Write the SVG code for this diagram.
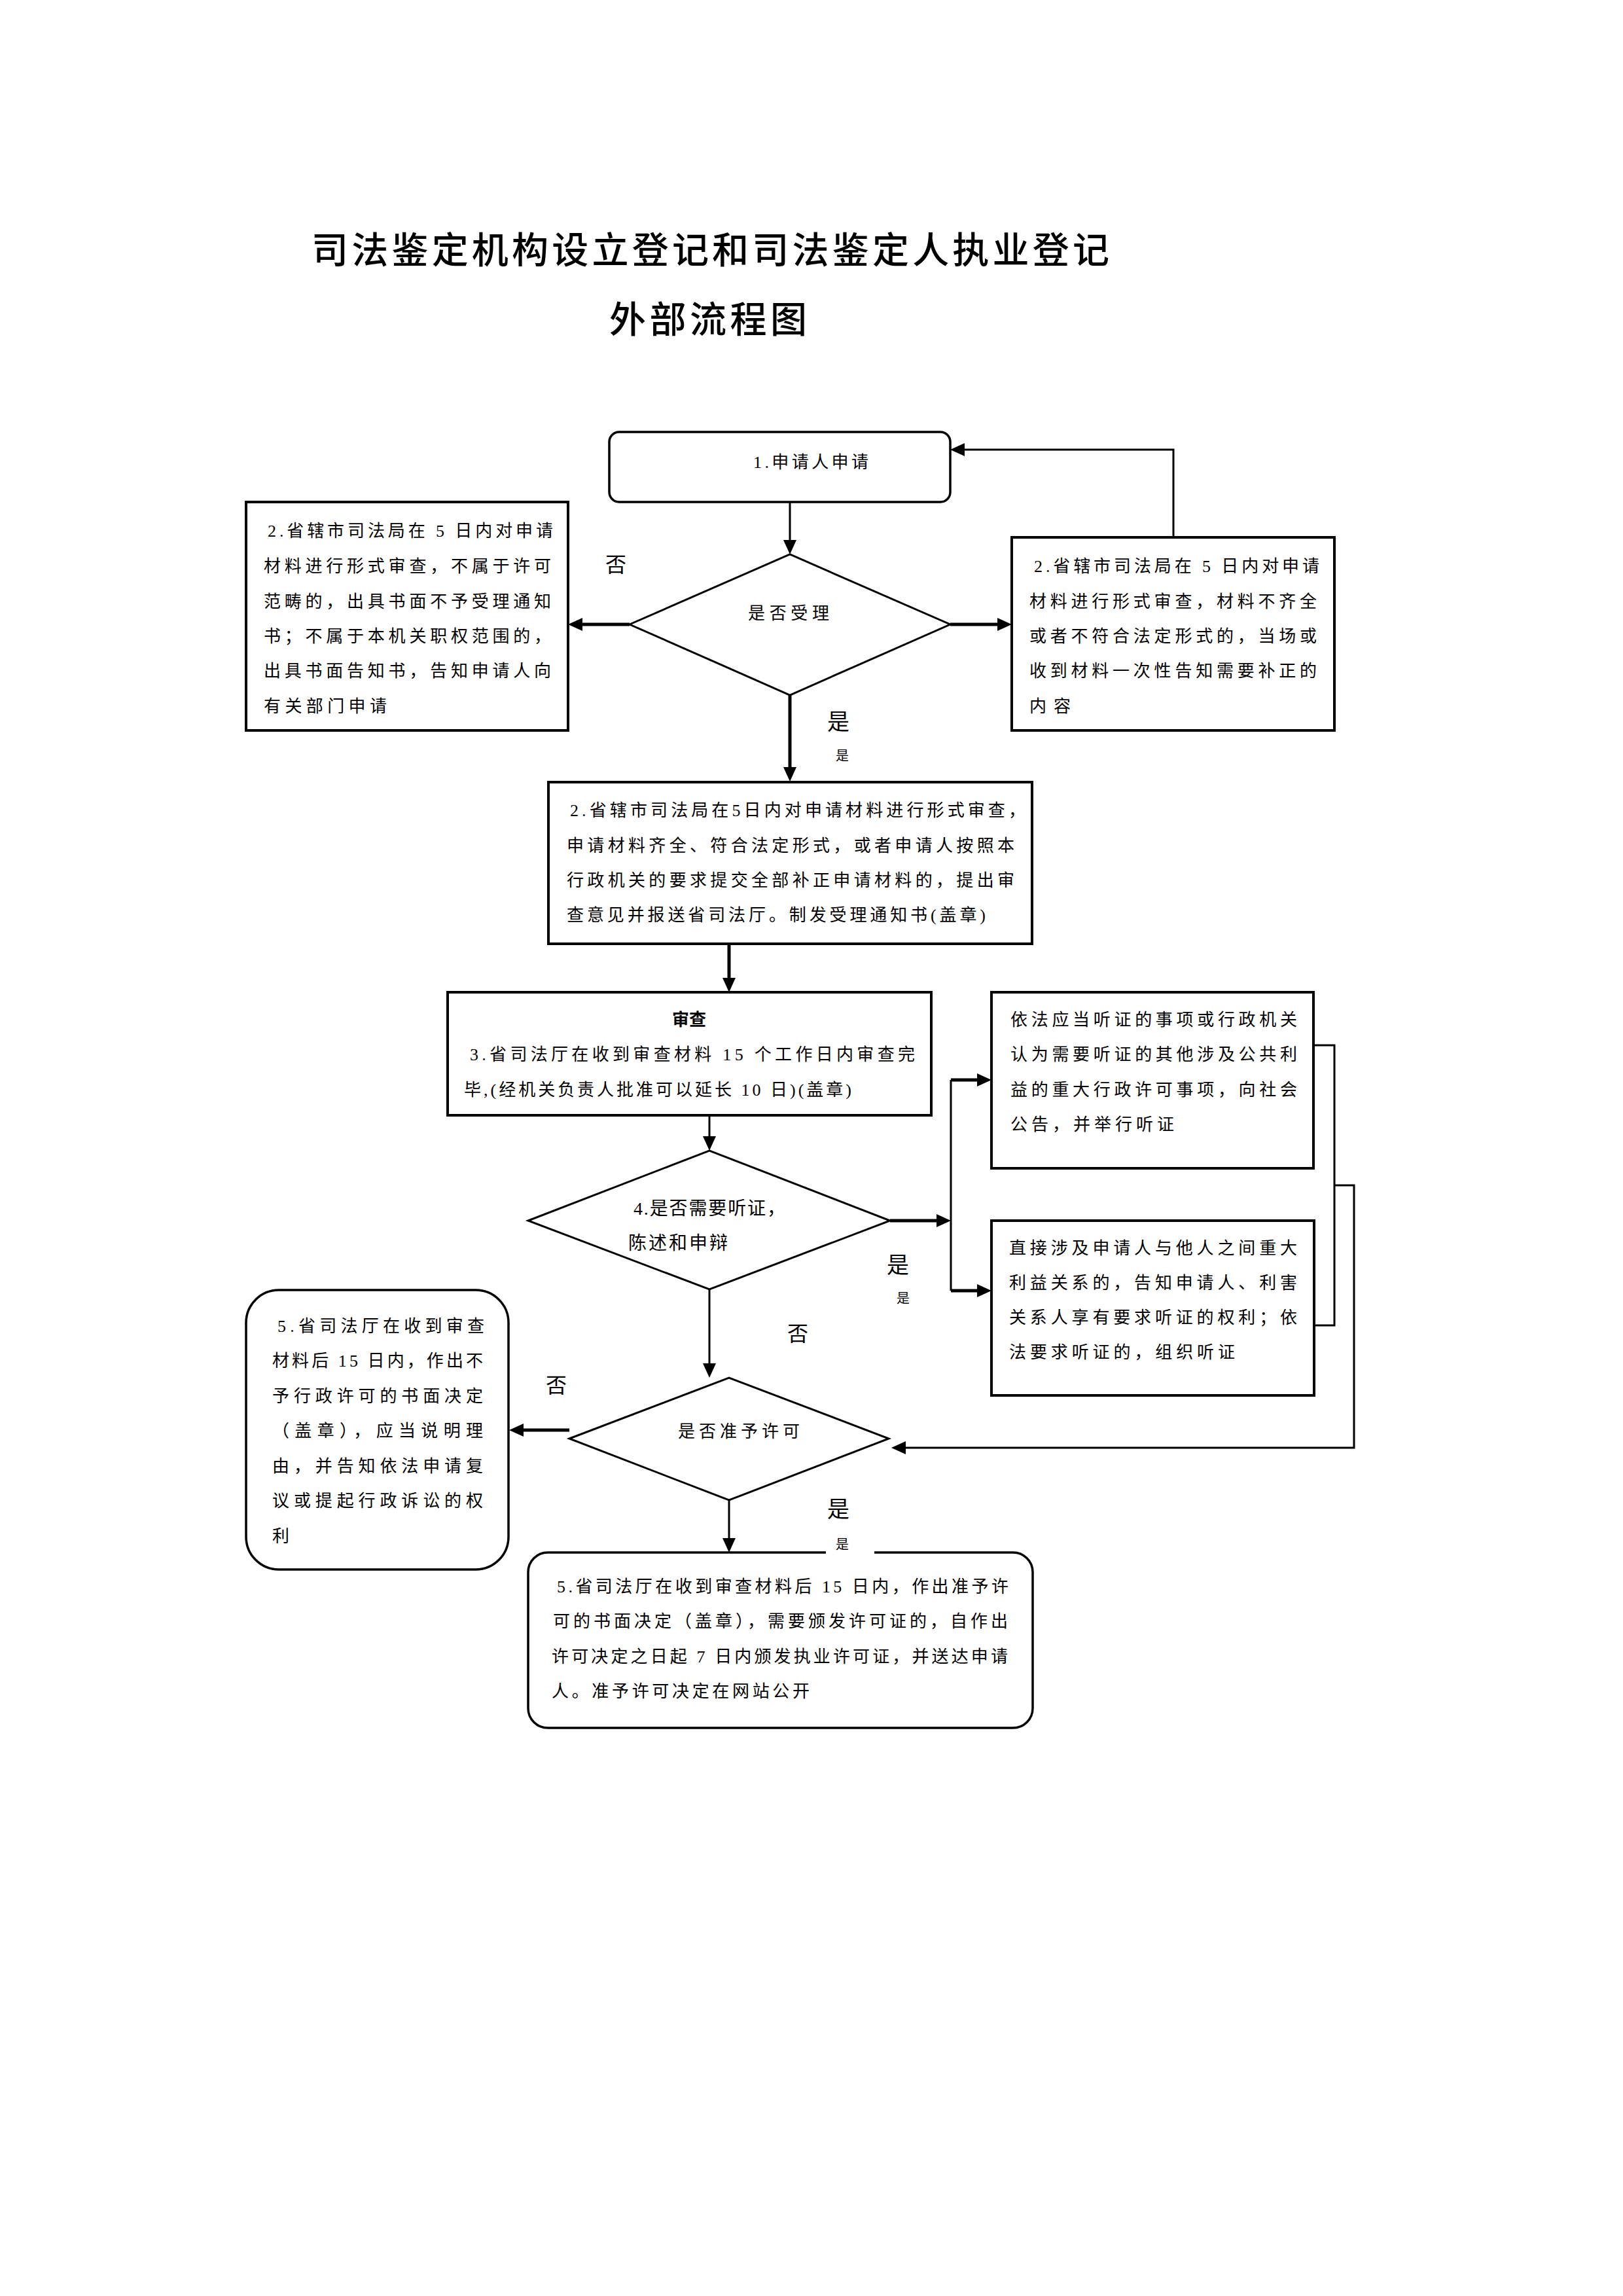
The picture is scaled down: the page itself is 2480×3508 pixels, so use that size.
<svg xmlns="http://www.w3.org/2000/svg" width="2480" height="3508" viewBox="0 0 2480 3508">
<style>
  .bg { fill: #ffffff; }
  .box { fill: none; stroke: #000; stroke-width: 4; }
  .rbox { fill: none; stroke: #000; stroke-width: 3.5; }
  .dia { fill: none; stroke: #000; stroke-width: 3; }
  .ln { fill: none; stroke: #000; stroke-width: 3; }
  .lnt { fill: none; stroke: #000; stroke-width: 5; }
  .t { font-family: "Liberation Serif", "Noto Sans CJK SC", sans-serif; font-size: 26px; fill: #000; }
  .td { font-family: "Liberation Serif", "Noto Sans CJK SC", sans-serif; font-size: 28px; fill: #000; }
  .lbl { font-family: "Noto Sans CJK SC", sans-serif; font-size: 32px; fill: #000; text-anchor: middle; }
  .lblb { font-family: "Noto Sans CJK SC", sans-serif; font-size: 34px; fill: #000; text-anchor: middle; }
  .lbls { font-family: "Noto Sans CJK SC", sans-serif; font-size: 20px; fill: #000; text-anchor: middle; }
  .title { font-family: "Noto Sans CJK SC", sans-serif; font-size: 56px; font-weight: 500; fill: #000; }
</style>
<defs>
  <marker id="ah" markerUnits="userSpaceOnUse" markerWidth="24" markerHeight="22" refX="2" refY="10" orient="auto">
    <path d="M0,0 L22,10 L0,20 z" fill="#000"/>
  </marker>
</defs>
<rect class="bg" x="0" y="0" width="2480" height="3508"/>

<g id="title">
  <text class="title" x="476" y="402" textLength="1219">司法鉴定机构设立登记和司法鉴定人执业登记</text>
  <text class="title" x="931" y="508" textLength="302">外部流程图</text>
</g>

<g id="connectors">
  <path class="ln" d="M1207,768 V827" marker-end="url(#ah)"/>
  <path class="lnt" d="M962,954 H888" marker-end="url(#ah)"/>
  <path class="lnt" d="M1452,954 H1526" marker-end="url(#ah)"/>
  <path class="ln" d="M1793,821 V687 H1472" marker-end="url(#ah)"/>
  <path class="lnt" d="M1207,1062 V1174" marker-end="url(#ah)"/>
  <path class="lnt" d="M1114,1442 V1496" marker-end="url(#ah)"/>
  <path class="ln" d="M1084,1704 V1738" marker-end="url(#ah)"/>
  <path class="lnt" d="M1360,1865 H1433" marker-end="url(#ah)"/>
  <path class="ln" d="M1453,1650 V1972"/>
  <path class="lnt" d="M1453,1650 H1495" marker-end="url(#ah)"/>
  <path class="lnt" d="M1453,1972 H1495" marker-end="url(#ah)"/>
  <path class="ln" d="M2007,1597 H2039 V2025 H2008"/>
  <path class="ln" d="M2039,1811 H2069 V2212 H1382" marker-end="url(#ah)"/>
  <path class="ln" d="M1084,1970 V2085" marker-end="url(#ah)"/>
  <path class="lnt" d="M870,2185 H798" marker-end="url(#ah)"/>
  <path class="ln" d="M1114,2292 V2352" marker-end="url(#ah)"/>
</g>

<g id="n1-apply">
  <rect class="rbox" x="931" y="660" width="521" height="107" rx="15"/>
  <text class="t" x="1151" y="715" textLength="176">1.申请人申请</text>
</g>

<g id="d1-accept">
  <polygon class="dia" points="962,954 1207,847 1452,954 1207,1062"/>
  <text class="t" x="1143" y="946" textLength="124">是否受理</text>
</g>

<g id="n2-reject">
  <rect class="box" x="376" y="767" width="492" height="349"/>
  <text class="t" x="409" y="820" textLength="436">2.省辖市司法局在 5 日内对申请</text>
  <text class="t" x="403" y="874" textLength="439">材料进行形式审查，不属于许可</text>
  <text class="t" x="403" y="928" textLength="439">范畴的，出具书面不予受理通知</text>
  <text class="t" x="403" y="981" textLength="439">书；不属于本机关职权范围的，</text>
  <text class="t" x="403" y="1034" textLength="439">出具书面告知书，告知申请人向</text>
  <text class="t" x="403" y="1088" textLength="188">有关部门申请</text>
</g>

<g id="n2-supplement">
  <rect class="box" x="1546" y="821" width="493" height="295"/>
  <text class="t" x="1580" y="874" textLength="436">2.省辖市司法局在 5 日内对申请</text>
  <text class="t" x="1573" y="928" textLength="439">材料进行形式审查，材料不齐全</text>
  <text class="t" x="1573" y="981" textLength="439">或者不符合法定形式的，当场或</text>
  <text class="t" x="1573" y="1034" textLength="439">收到材料一次性告知需要补正的</text>
  <text class="t" x="1573" y="1088" textLength="63">内容</text>
</g>

<g id="n2-accept">
  <rect class="box" x="838" y="1195" width="739" height="247"/>
  <text class="t" x="871" y="1247" textLength="696">2.省辖市司法局在5日内对申请材料进行形式审查，</text>
  <text class="t" x="866" y="1301" textLength="684">申请材料齐全、符合法定形式，或者申请人按照本</text>
  <text class="t" x="866" y="1354" textLength="684">行政机关的要求提交全部补正申请材料的，提出审</text>
  <text class="t" x="866" y="1407" textLength="640">查意见并报送省司法厅。制发受理通知书(盖章)</text>
</g>

<g id="n3-review">
  <rect class="box" x="684" y="1516" width="739" height="188"/>
  <text class="t" x="1053" y="1567" text-anchor="middle" font-weight="bold">审查</text>
  <text class="t" x="718" y="1620" textLength="680">3.省司法厅在收到审查材料 15 个工作日内审查完</text>
  <text class="t" x="709" y="1674" textLength="592">毕,(经机关负责人批准可以延长 10 日)(盖章)</text>
</g>

<g id="d4-hearing">
  <polygon class="dia" points="807,1865 1084,1758 1360,1865 1084,1970"/>
  <text class="td" x="968" y="1856" textLength="232">4.是否需要听证，</text>
  <text class="td" x="960" y="1909" textLength="152">陈述和申辩</text>
</g>

<g id="n4-public-hearing">
  <rect class="box" x="1515" y="1516" width="492" height="269"/>
  <text class="t" x="1544" y="1567" textLength="438">依法应当听证的事项或行政机关</text>
  <text class="t" x="1544" y="1620" textLength="438">认为需要听证的其他涉及公共利</text>
  <text class="t" x="1544" y="1674" textLength="438">益的重大行政许可事项，向社会</text>
  <text class="t" x="1544" y="1727" textLength="250">公告，并举行听证</text>
</g>

<g id="n4-party-hearing">
  <rect class="box" x="1515" y="1865" width="493" height="267"/>
  <text class="t" x="1542" y="1916" textLength="440">直接涉及申请人与他人之间重大</text>
  <text class="t" x="1542" y="1969" textLength="440">利益关系的，告知申请人、利害</text>
  <text class="t" x="1542" y="2022" textLength="440">关系人享有要求听证的权利；依</text>
  <text class="t" x="1542" y="2075" textLength="345">法要求听证的，组织听证</text>
</g>

<g id="d5-permit">
  <polygon class="dia" points="870,2198 1114,2105 1358,2198 1114,2292"/>
  <text class="t" x="1036" y="2196" textLength="186">是否准予许可</text>
</g>

<g id="n5-deny">
  <rect class="rbox" x="376" y="1971" width="401" height="427" rx="50"/>
  <text class="t" x="424" y="2035" textLength="316">5.省司法厅在收到审查</text>
  <text class="t" x="416" y="2088" textLength="322">材料后 15 日内，作出不</text>
  <text class="t" x="416" y="2142" textLength="322">予行政许可的书面决定</text>
  <text class="t" x="416" y="2195" textLength="322">（盖章），应当说明理</text>
  <text class="t" x="416" y="2249" textLength="322">由，并告知依法申请复</text>
  <text class="t" x="416" y="2302" textLength="322">议或提起行政诉讼的权</text>
  <text class="t" x="416" y="2356">利</text>
</g>

<g id="n5-grant">
  <rect class="rbox" x="807" y="2372" width="771" height="268" rx="30"/>
  <text class="t" x="851" y="2433" textLength="690">5.省司法厅在收到审查材料后 15 日内，作出准予许</text>
  <text class="t" x="845" y="2486" textLength="695">可的书面决定（盖章），需要颁发许可证的，自作出</text>
  <text class="t" x="843" y="2540" textLength="697">许可决定之日起 7 日内颁发执业许可证，并送达申请</text>
  <text class="t" x="843" y="2593" textLength="394">人。准予许可决定在网站公开</text>
</g>

<g id="labels">
  <text class="lbl" x="941" y="874">否</text>
  <text class="lblb" x="1281" y="1115">是</text>
  <text class="lbls" x="1287" y="1162">是</text>
  <text class="lblb" x="1372" y="1945">是</text>
  <text class="lbls" x="1380" y="1991">是</text>
  <text class="lbl" x="1219" y="2049">否</text>
  <text class="lbl" x="850" y="2128">否</text>
  <text class="lblb" x="1281" y="2318">是</text>
  <rect class="bg" x="1262" y="2360" width="74" height="24"/>
  <text class="lbls" x="1287" y="2367">是</text>
</g>
</svg>
